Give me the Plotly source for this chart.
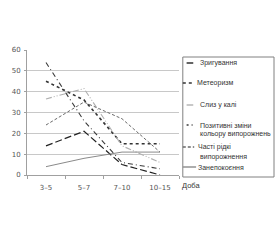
import plotly.graph_objects as go

categories = ["3–5", "5–7", "7–10", "10–15"]
names = ["Зригування", "Метеоризм", "Слиз у калі",
         "Позитивні зміни<br>кольору випорожнень", "Часті рідкі<br>випорожнення", "Занепокоєння"]
zryhuvannia = [14, 21, 5, 0]
meteoryzm = [45, 36, 15, 15]
slyz = [36.5, 41.5, 14, 6]
pozytyvni = [54, 26, 6, 3]
chasti = [24, 35, 27, 11]
zanepokoiennia = [4, 8, 11, 11]
series = [zryhuvannia, meteoryzm, slyz, pozytyvni, chasti, zanepokoiennia]

colors = ["#222222", "#333333", "#b0b0b0", "#3a3a3a", "#6a6a6a", "#8a8a8a"]
dashes = ["7px,3px", "dot", "6px,2px,1px,2px,1px,2px", "5px,3px,1px,3px", "3px,2px", "solid"]
widths = [1.2, 1.6, 1.1, 1.1, 1.0, 1.0]

W, H = 280, 240
L, R, T, B = 19, 101, 50, 65
PW, PH = W - L - R, H - T - B

def px(x):
    return (x - L) / PW

def py(y):
    return (H - B - y) / PH

fig = go.Figure()
for s, n, c, d, w in zip(series, names, colors, dashes, widths):
    fig.add_trace(go.Scatter(x=categories, y=s, mode="lines", name=n,
                             line=dict(color=c, dash=d, width=w), showlegend=False))

# manual legend
leg_text_y = [[63], [83], [105], [125, 134], [147, 157], [167]]
sym_x = [(187, 194), (183, 195), (187, 194), (187, 196), (183, 195), (183, 197)]
text_x = [199, 196, 199, 199, 197, 197]
text_x2 = [199, 199, 199, 199, 199, 199]
shapes = [dict(type="rect", xref="paper", yref="paper", x0=px(183), x1=px(279),
               y0=py(177), y1=py(57), line=dict(color="#808080", width=1))]
annotations = []
for k, (n, c, d, ys, sx) in enumerate(zip(names, colors, dashes, leg_text_y, sym_x)):
    sd = d if d in ("dot", "3px,2px") else ("2px,3px,1px,3px" if k == 3 else "solid")
    shapes.append(dict(type="line", xref="paper", yref="paper", x0=px(sx[0]), x1=px(sx[1]),
                       y0=py(ys[0]), y1=py(ys[0]),
                       line=dict(color=c, width=1.4, dash=sd)))
    for i, part in enumerate(n.split("<br>")):
        annotations.append(dict(text=part, xref="paper", yref="paper",
                                x=px(text_x[k] if i == 0 else text_x2[k]),
                                y=py(ys[i]), xanchor="left", yanchor="middle", showarrow=False,
                                font=dict(family="Liberation Sans", size=7, color="#333333")))
annotations.append(dict(text="Доба", xref="paper", yref="paper", x=px(180), y=py(185),
                        xanchor="left", yanchor="middle", showarrow=False,
                        font=dict(family="Liberation Sans", size=7.5, color="#333333")))

fig.update_layout(
    width=W, height=H, margin=dict(l=L, r=R, t=T, b=B),
    paper_bgcolor="white", plot_bgcolor="white",
    shapes=shapes, annotations=annotations,
    xaxis=dict(type="category", showgrid=False, showline=True, linecolor="#a0a0a0", linewidth=1,
               ticks="outside", tickson="boundaries", ticklen=3, tickcolor="#a0a0a0",
               ticklabelstandoff=6,
               tickfont=dict(family="DejaVu Sans", size=7, color="#555555"),
               range=[-0.5, 3.5], fixedrange=True),
    yaxis=dict(range=[0, 60], dtick=10, showgrid=True, gridcolor="#c8c8c8", gridwidth=1,
               showline=True, linecolor="#a0a0a0", ticks="outside", ticklen=2, tickcolor="#a0a0a0",
               ticklabelstandoff=2,
               zeroline=False, tickfont=dict(family="DejaVu Sans", size=7, color="#555555"),
               fixedrange=True),
)
fig.write_html("out.html")
